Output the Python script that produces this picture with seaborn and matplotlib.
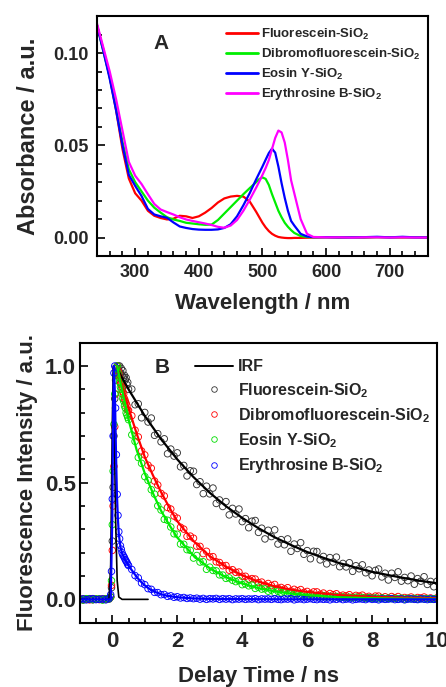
import numpy as np
import pandas as pd
import seaborn as sns
import matplotlib.pyplot as plt
from matplotlib.lines import Line2D
from matplotlib.ticker import MultipleLocator, FormatStrFormatter

sns.set_style('ticks')
plt.rcParams['font.family'] = ['Liberation Sans', 'DejaVu Sans']
plt.rcParams['font.weight'] = 'bold'
plt.rcParams['axes.labelweight'] = 'bold'
plt.rcParams['mathtext.fontset'] = 'custom'
plt.rcParams['mathtext.rm'] = 'Liberation Sans:bold'
plt.rcParams['mathtext.it'] = 'Liberation Sans:bold'
plt.rcParams['mathtext.bf'] = 'Liberation Sans:bold'
plt.rcParams['mathtext.default'] = 'rm'

samples = ['Fluorescein-SiO$_2$', 'Dibromofluorescein-SiO$_2$',
           'Eosin Y-SiO$_2$', 'Erythrosine B-SiO$_2$']

# ---------------- panel A: absorption spectra ----------------
wavelength = [240, 250, 260, 270, 280, 290, 300, 310, 320, 330, 340, 350, 360, 370,
              380, 390, 400, 410, 420, 430, 440, 450, 460, 470, 480, 490, 495, 500,
              505, 510, 515, 520, 525, 530, 535, 540, 545, 550, 560, 570, 580, 600,
              620, 640, 660, 680, 700, 720, 740, 760]
abs_fluorescein = [0.115, 0.102, 0.087, 0.069, 0.048, 0.032, 0.024, 0.020, 0.0145, 0.0118,
                   0.0106, 0.0098, 0.0102, 0.0118, 0.0115, 0.0106, 0.0115, 0.0135, 0.0160, 0.0190,
                   0.0212, 0.0222, 0.0226, 0.0222, 0.0195, 0.0140, 0.0110, 0.0080, 0.0055, 0.0035,
                   0.0020, 0.0010, 0.0003, 0.0000, -0.0002, -0.0003, -0.0003, -0.0002, -0.0002, -0.0001,
                   0.0, 0.0001, 0.0, 0.0001, 0.0, 0.0002, 0.0001, 0.0, 0.0001, 0.0]
abs_dibromo = [0.115, 0.101, 0.087, 0.070, 0.052, 0.037, 0.0300, 0.0250, 0.0200, 0.0162,
               0.0135, 0.0110, 0.0098, 0.0090, 0.0080, 0.0076, 0.0072, 0.0069, 0.0070, 0.0095,
               0.0130, 0.0165, 0.0200, 0.0235, 0.0268, 0.0300, 0.0317, 0.0326, 0.0318, 0.0285,
               0.0235, 0.0190, 0.0145, 0.0110, 0.0080, 0.0058, 0.0040, 0.0025, 0.0008, 0.0003,
               0.0002, 0.0002, 0.0001, 0.0002, 0.0001, 0.0002, 0.0001, 0.0002, 0.0001, 0.0001]
abs_eosin = [0.115, 0.101, 0.086, 0.069, 0.050, 0.034, 0.0280, 0.0225, 0.0155, 0.0125,
             0.0115, 0.0107, 0.0082, 0.0060, 0.0052, 0.0046, 0.0043, 0.0042, 0.0042, 0.0044,
             0.0052, 0.0072, 0.0115, 0.0175, 0.0241, 0.0315, 0.0350, 0.0385, 0.0422, 0.0458,
             0.0482, 0.0460, 0.0385, 0.0295, 0.0215, 0.0145, 0.0090, 0.0065, 0.0020, 0.0006,
             0.0002, 0.0002, 0.0001, 0.0001, 0.0002, 0.0004, 0.0001, 0.0004, 0.0001, 0.0001]
abs_erythrosine = [0.116, 0.103, 0.090, 0.075, 0.058, 0.041, 0.0335, 0.0290, 0.0235, 0.0182,
                   0.0152, 0.0138, 0.0125, 0.0110, 0.0098, 0.0090, 0.0083, 0.0076, 0.0068, 0.0058,
                   0.0053, 0.0065, 0.0095, 0.0145, 0.0205, 0.0270, 0.0304, 0.0340, 0.0377, 0.0420,
                   0.0480, 0.0540, 0.0580, 0.0570, 0.0515, 0.0420, 0.0310, 0.0240, 0.0100, 0.0020,
                   0.0003, 0.0001, 0.0001, 0.0, 0.0001, 0.0001, 0.0, 0.0001, 0.0, 0.0]
abs_colors = ['#ff0000', '#00ee00', '#0000ff', '#ff00ff']

# ---------------- panel B: fluorescence decays ----------------
# channel grid: baseline, fine grid over the rise, then 0.1 ns steps
time = np.concatenate([np.round(np.arange(-1.0, -0.05, 0.1), 3),
                       np.round(np.arange(-0.05, 0.501, 0.025), 3),
                       np.round(np.arange(0.6, 10.01, 0.1), 2)])

decay_fluorescein = [0.002, -0.003, 0.001, 0.003, -0.002, 0.000, 0.002, -0.001, 0.003, 0.001,
    0.01, 0.05, 0.25, 0.48, 0.70, 0.86, 0.94, 0.97, 0.99, 1.00, 0.98, 1.00, 0.97, 0.99, 0.96,
    0.98, 0.95, 0.96, 0.94, 0.95, 0.92, 0.93, 0.90,
    0.901, 0.834, 0.838, 0.778, 0.801, 0.760, 0.777, 0.703, 0.710, 0.675,
    0.688, 0.624, 0.644, 0.614, 0.628, 0.568, 0.574, 0.529, 0.551, 0.549,
    0.492, 0.504, 0.453, 0.485, 0.452, 0.477, 0.411, 0.426, 0.398, 0.419,
    0.362, 0.390, 0.366, 0.387, 0.333, 0.346, 0.307, 0.335, 0.338, 0.287,
    0.305, 0.259, 0.296, 0.269, 0.298, 0.237, 0.256, 0.234, 0.259, 0.206,
    0.237, 0.218, 0.243, 0.193, 0.209, 0.174, 0.206, 0.205, 0.169, 0.184,
    0.152, 0.179, 0.160, 0.181, 0.140, 0.154, 0.139, 0.157, 0.120, 0.144,
    0.131, 0.148, 0.114, 0.126, 0.101, 0.124, 0.130, 0.096, 0.112, 0.083,
    0.112, 0.094, 0.118, 0.078, 0.094, 0.080, 0.100, 0.065, 0.089, 0.078,
    0.097, 0.064, 0.077, 0.054, 0.078]
decay_dibromo = [-0.001, 0.002, 0.000, -0.002, 0.003, 0.001, -0.001, 0.002, 0.000, 0.004,
    0.01, 0.06, 0.21, 0.40, 0.57, 0.74, 0.88, 0.96, 1.00, 0.98, 0.97, 0.95, 0.93, 0.92, 0.91,
    0.89, 0.88, 0.86, 0.85, 0.84, 0.83, 0.81, 0.81,
    0.787, 0.725, 0.696, 0.636, 0.619, 0.575, 0.562, 0.507, 0.490, 0.454,
    0.443, 0.394, 0.387, 0.357, 0.348, 0.309, 0.301, 0.270, 0.271, 0.262,
    0.228, 0.227, 0.196, 0.206, 0.182, 0.183, 0.161, 0.158, 0.144, 0.145,
    0.125, 0.127, 0.116, 0.117, 0.099, 0.099, 0.086, 0.089, 0.087, 0.072,
    0.074, 0.061, 0.068, 0.059, 0.064, 0.048, 0.051, 0.044, 0.050, 0.036,
    0.043, 0.037, 0.042, 0.030, 0.034, 0.025, 0.032, 0.032, 0.022, 0.027,
    0.018, 0.025, 0.020, 0.024, 0.014, 0.018, 0.015, 0.020, 0.010, 0.017,
    0.014, 0.018, 0.009, 0.013, 0.007, 0.014, 0.014, 0.007, 0.011, 0.005,
    0.012, 0.007, 0.012, 0.004, 0.008, 0.005, 0.010, 0.003, 0.008, 0.006,
    0.010, 0.004, 0.006, 0.002, 0.007]
decay_eosin = [0.001, -0.002, 0.003, 0.000, -0.001, 0.002, 0.001, -0.003, 0.002, 0.003,
    0.01, 0.08, 0.32, 0.55, 0.75, 0.88, 0.96, 0.99, 1.00, 0.97, 0.95, 0.93, 0.91, 0.90, 0.88,
    0.86, 0.85, 0.83, 0.82, 0.80, 0.79, 0.78, 0.77,
    0.705, 0.677, 0.608, 0.583, 0.526, 0.510, 0.470, 0.451, 0.401, 0.383,
    0.343, 0.339, 0.310, 0.281, 0.279, 0.237, 0.236, 0.213, 0.210, 0.177,
    0.188, 0.160, 0.161, 0.129, 0.138, 0.124, 0.122, 0.105, 0.104, 0.090,
    0.092, 0.082, 0.076, 0.080, 0.063, 0.066, 0.058, 0.061, 0.047, 0.052,
    0.044, 0.045, 0.035, 0.040, 0.029, 0.035, 0.028, 0.031, 0.023, 0.027,
    0.023, 0.026, 0.017, 0.021, 0.015, 0.020, 0.015, 0.016, 0.011, 0.016,
    0.010, 0.013, 0.011, 0.012, 0.007, 0.010, 0.007, 0.009, 0.006, 0.009,
    0.005, 0.008, 0.004, 0.007, 0.004, 0.006, 0.003, 0.006, 0.002, 0.005,
    0.003, 0.004, 0.002, 0.005, 0.001, 0.004, 0.002, 0.004, 0.001, 0.003,
    0.002, 0.003, 0.000, 0.003, 0.001]
decay_erythrosine = [0.000, 0.002, -0.002, 0.001, 0.003, -0.001, 0.000, 0.002, -0.002, 0.004,
    0.02, 0.12, 0.43, 0.70, 0.97, 1.00, 0.82, 0.62, 0.45, 0.36, 0.29, 0.26, 0.23, 0.215, 0.20,
    0.19, 0.185, 0.178, 0.17, 0.164, 0.158, 0.15, 0.145,
    0.128, 0.102, 0.092, 0.070, 0.063, 0.046, 0.043, 0.030, 0.029, 0.020,
    0.021, 0.013, 0.015, 0.009, 0.011, 0.006, 0.008, 0.004, 0.006, 0.003,
    0.005, 0.001, 0.004, 0.000, 0.003, 0.002, 0.004, 0.000, 0.003, 0.001,
    0.003, -0.001, 0.002, 0.001, 0.003, 0.000, 0.002, 0.001, 0.003, -0.001,
    0.002, 0.001, 0.002, 0.000, 0.003, 0.000, -0.001, 0.002, 0.001, 0.003,
    -0.002, 0.001, 0.002, -0.001, 0.001, 0.003, 0.000, -0.001, 0.002, 0.000,
    0.001, -0.002, 0.002, 0.000, 0.003, -0.001, 0.001, 0.002, -0.002, 0.000,
    0.002, 0.001, -0.001, 0.003, 0.000, 0.001, -0.002, 0.002, 0.000, 0.001,
    0.003, -0.001, 0.000, 0.002, -0.002, 0.001, 0.002, 0.000, -0.001, 0.002,
    0.001, -0.001, 0.002, 0.000, 0.001]

# fitted curves and instrument response
irf_t = [-1.0, -0.1, -0.05, 0.0, 0.03, 0.06, 0.1, 0.15, 0.2, 0.3, 1.1]
irf_i = [0.0, 0.0, 0.15, 0.75, 1.0, 0.75, 0.35, 0.08, 0.01, 0.0, 0.0]
fit_t_fluorescein = [0.2, 0.5, 1.0, 1.5, 2.0, 2.5, 3.0, 3.5, 4.0, 4.5, 5.0, 5.5, 6.0, 6.5,
                     7.0, 7.5, 8.0, 8.5, 9.0, 9.5, 10.0]
fit_fluorescein = [0.975, 0.900, 0.786, 0.687, 0.600, 0.524, 0.457, 0.399, 0.349, 0.305, 0.266,
                   0.233, 0.203, 0.178, 0.155, 0.136, 0.118, 0.104, 0.091, 0.079, 0.069]
fit_t_mid = [0.15, 0.25, 0.5, 0.75, 1.0, 1.25, 1.5, 1.75, 2.0, 2.5, 3.0, 3.5, 4.0, 4.5, 5.0,
             5.5, 6.0, 7.0, 8.0, 9.0, 10.0]
fit_dibromo = [1.0, 0.94, 0.82, 0.71, 0.61, 0.532, 0.46, 0.395, 0.335, 0.25, 0.185, 0.14, 0.103,
               0.076, 0.056, 0.042, 0.032, 0.018, 0.011, 0.007, 0.005]
fit_eosin = [1.0, 0.93, 0.77, 0.64, 0.54, 0.455, 0.38, 0.32, 0.265, 0.187, 0.133, 0.095, 0.068,
             0.048, 0.034, 0.025, 0.018, 0.009, 0.005, 0.003, 0.002]
fit_t_erythrosine = [-1.0, -0.05, 0.0, 0.03, 0.05, 0.08, 0.11, 0.14, 0.17, 0.2, 0.25, 0.3, 0.4,
                     0.5, 0.6, 0.7, 0.8, 0.9, 1.0, 1.1, 1.2, 1.3, 1.4, 1.5, 1.7, 1.9, 2.1, 2.5,
                     3.0, 4.0, 6.0, 10.0]
fit_erythrosine = [0.0, 0.0, 0.35, 0.85, 1.0, 0.88, 0.65, 0.46, 0.35, 0.28, 0.225, 0.197, 0.168,
                   0.145, 0.125, 0.106, 0.088, 0.073, 0.06, 0.049, 0.04, 0.033, 0.027, 0.022,
                   0.015, 0.011, 0.008, 0.004, 0.002, 0.001, 0.0, 0.0]
decay_colors = ['#333333', '#ff0000', '#00dd00', '#0000ff']

# ---------------- tables ----------------
abs_df = pd.concat([pd.DataFrame({'wl': wavelength, 'A': v, 'sample': s})
                    for s, v in zip(samples, [abs_fluorescein, abs_dibromo, abs_eosin, abs_erythrosine])])
dec_df = pd.concat([pd.DataFrame({'t': time, 'I': v, 'sample': s})
                    for s, v in zip(samples, [decay_fluorescein, decay_dibromo, decay_eosin, decay_erythrosine])])
fit_df = pd.concat([pd.DataFrame({'t': fit_t_fluorescein, 'I': fit_fluorescein, 'sample': samples[0]}),
                    pd.DataFrame({'t': fit_t_mid, 'I': fit_dibromo, 'sample': samples[1]}),
                    pd.DataFrame({'t': fit_t_mid, 'I': fit_eosin, 'sample': samples[2]}),
                    pd.DataFrame({'t': fit_t_erythrosine, 'I': fit_erythrosine, 'sample': samples[3]})])

fig = plt.figure(figsize=(4.46, 6.87), dpi=100)
axA = fig.add_axes([0.2175, 0.6274, 0.742, 0.349])
axB = fig.add_axes([0.179, 0.0936, 0.801, 0.4076])

# panel A
sns.lineplot(data=abs_df, x='wl', y='A', hue='sample', hue_order=samples,
             palette=dict(zip(samples, abs_colors)), linewidth=1.6, legend=False,
             sort=False, ax=axA)
axA.set_xlim(240, 760)
axA.set_ylim(-0.01, 0.12)
axA.xaxis.set_major_locator(MultipleLocator(100))
axA.xaxis.set_minor_locator(MultipleLocator(20))
axA.set_yticks([0.0, 0.05, 0.10])
axA.yaxis.set_minor_locator(MultipleLocator(0.01))
axA.yaxis.set_major_formatter(FormatStrFormatter('%.2f'))
axA.set_xlabel('Wavelength / nm', fontsize=16)
axA.set_ylabel('Absorbance / a.u.', fontsize=17)
axA.xaxis.set_label_coords(0.5, -0.155)
axA.yaxis.set_label_coords(-0.172, 0.5)
axA.text(0.193, 0.8875, 'A', transform=axA.transAxes, fontsize=15,
         fontweight='bold', ha='center', va='center')
handlesA = [Line2D([], [], color=c, lw=2) for c in abs_colors]
axA.legend(handlesA, samples, loc='upper left', bbox_to_anchor=(0.39, 0.955),
           frameon=False, fontsize=9.5, handlelength=2.4, handletextpad=0.25,
           labelspacing=0.35, borderpad=0, borderaxespad=0)
for t in axA.get_xticklabels() + axA.get_yticklabels():
    t.set_fontsize(13)

# panel B
for s, c in zip(samples, decay_colors):
    sns.scatterplot(data=dec_df[dec_df['sample'] == s], x='t', y='I', color=c,
                    facecolor='none', edgecolor=c, s=22, linewidth=0.65,
                    marker='o', legend=False, ax=axB)
sns.lineplot(x=irf_t, y=irf_i, color='black', linewidth=1.2, sort=False, ax=axB)
sns.lineplot(data=fit_df, x='t', y='I', hue='sample', hue_order=samples,
             palette=dict(zip(samples, ['black', '#ff0000', '#00ee00', '#0000ff'])),
             linewidth=1.6, legend=False, sort=False, ax=axB)
axB.set_xlim(-1, 10)
axB.set_ylim(-0.1, 1.1)
axB.xaxis.set_major_locator(MultipleLocator(2))
axB.xaxis.set_minor_locator(MultipleLocator(0.5))
axB.set_yticks([0.0, 0.5, 1.0])
axB.yaxis.set_minor_locator(MultipleLocator(0.1))
axB.yaxis.set_major_formatter(FormatStrFormatter('%.1f'))
axB.set_xlabel('Delay Time / ns', fontsize=16)
axB.set_ylabel('Fluorescence Intensity / a.u.', fontsize=16)
axB.xaxis.set_label_coords(0.5, -0.155)
axB.yaxis.set_label_coords(-0.118, 0.5)
axB.text(0.23, 0.91, 'B', transform=axB.transAxes, fontsize=15,
         fontweight='bold', ha='center', va='center')
handlesB = [Line2D([], [], color='black', lw=1.4)] + \
           [Line2D([], [], ls='none', marker='o', ms=4, mfc='none', mec=c, mew=0.6)
            for c in decay_colors]
axB.legend(handlesB, ['IRF'] + samples, loc='upper left', bbox_to_anchor=(0.322, 0.94),
           frameon=False, fontsize=11.5, handlelength=2.4, handletextpad=0.3,
           labelspacing=0.4, borderpad=0, borderaxespad=0)
for t in axB.get_xticklabels() + axB.get_yticklabels():
    t.set_fontsize(16)

for ax in (axA, axB):
    for sp in ax.spines.values():
        sp.set_visible(True)
        sp.set_color('black')
        sp.set_linewidth(1.5)
    ax.tick_params(which='both', direction='in', top=False, right=False,
                   color='black', width=1.2)
    ax.tick_params(which='major', length=6)
    ax.tick_params(which='minor', length=3.5)
axA.tick_params(which='major', pad=6)
axB.tick_params(axis='y', which='major', pad=3)
axB.tick_params(axis='x', which='major', pad=6)

fig.savefig('out.png', dpi=100)
